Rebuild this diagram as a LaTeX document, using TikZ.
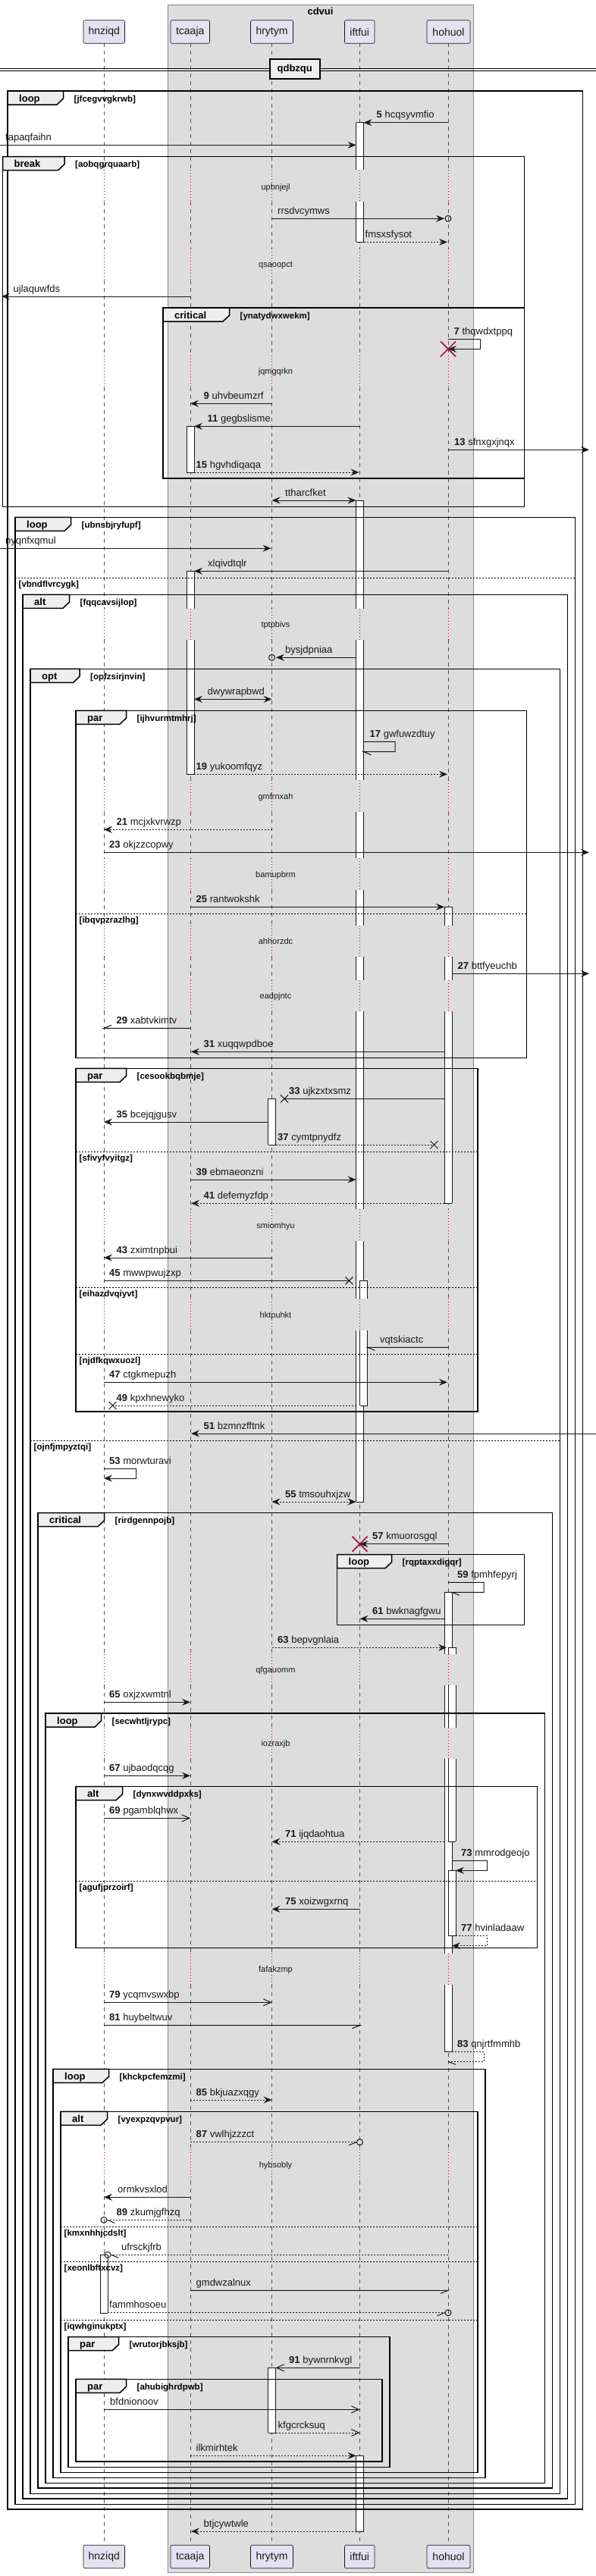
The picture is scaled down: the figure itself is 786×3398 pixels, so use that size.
\documentclass[tikz,border=0pt]{standalone}
\usepackage{fontspec}
\setmainfont{Liberation Sans}
\usetikzlibrary{arrows.meta}
\definecolor{pfill}{HTML}{E2E2F0}
\definecolor{lc}{HTML}{181818}
\definecolor{boxbg}{HTML}{DDDDDD}
\definecolor{boxbd}{HTML}{8A8A8A}
\definecolor{dred}{HTML}{A80036}
\definecolor{tabf}{HTML}{EEEEEE}
\newcommand\fs[1]{\fontsize{#1}{#1}\selectfont}
\tikzset{
 ln/.style={draw=lc, line width=1pt},
 dt/.style={dash pattern=on 2pt off 2pt},
 fa/.style={-{Stealth[length=11pt,width=9pt,inset=4pt]}},
 ba/.style={{Stealth[length=11pt,width=9pt,inset=4pt]}-{Stealth[length=11pt,width=9pt,inset=4pt]}},
 oa/.style={-{Straight Barb[length=10pt,width=9pt]}},
 lbl/.style={anchor=base west, inner sep=0pt, font=\fs{13}, text=lc},
 part/.style={draw=lc, fill=pfill, line width=0.6pt, rounded corners=2pt, font=\fs{14}, text=lc, inner sep=0pt, minimum height=30.5pt},
 life/.style={draw=lc!75, line width=0.6pt, dash pattern=on 5pt off 5pt},
 dly/.style={draw=dred, line width=0.8pt, dash pattern=on 1pt off 3pt},
 frm/.style={draw=black, line width=1.5pt},
 tabs/.style={draw=black, fill=tabf, line width=1.5pt},
 actl/.style={draw=lc, line width=1pt},
 glab/.style={anchor=base west, inner sep=0pt, font=\bfseries\fs{13}},
 gcond/.style={anchor=base west, inner sep=0pt, font=\bfseries\fs{11.5}},
 dtext/.style={anchor=base, inner sep=0pt, font=\fs{11}, text=lc},
 elsl/.style={draw=black, line width=1pt, dash pattern=on 2pt off 2pt},
 dx/.style={draw=dred, line width=1.5pt},
}
\newcommand\mlb[4]{\node[lbl] at (#1,#2-6) {\textbf{#3} #4};}
\newcommand\nlb[3]{\node[lbl] at (#1,#2-6) {#3};}
\newcommand\xmk[2]{\draw[ln] (#1-5,#2-5) -- (#1+5,#2+5) (#1-5,#2+5) -- (#1+5,#2-5);}
\newcommand\dlyt[2]{\node[dtext] at (363.5,#1+3.5) {#2};}
\newcommand\actb[5]{\fill[white] (#1,#2) rectangle (#1+10,#3);
 \draw[actl] (#1,#2) -- (#1,#3) (#1+10,#2) -- (#1+10,#3);
 \ifnum#4=1 \draw[actl] (#1,#2) -- (#1+10,#2);\fi
 \ifnum#5=1 \draw[actl] (#1,#3) -- (#1+10,#3);\fi}
\newcommand\grpb[7]{\draw[frm] (#1,#2) rectangle (#3,#4);
 \filldraw[tabs] (#1,#2) -- (#1+#6,#2) -- (#1+#6,#2+10) -- (#1+#6-8.5,#2+18) -- (#1,#2+18) -- cycle;
 \node[glab] at (#1+15,#2+14) {#5};
 \node[gcond] at (#1+#6+14,#2+14) {[#7]};}
\newcommand\elsb[4]{\draw[elsl] (#1,#3) -- (#2,#3); \node[gcond] at (#1+4.5,#3+12.5) {[#4]};}
\begin{document}
\begin{tikzpicture}[x=1pt,y=-1pt]
\useasboundingbox (0,0) rectangle (786,3398);
% box
\filldraw[fill=boxbg, draw=boxbd, line width=0.8pt] (221,6) rectangle (624,3393);
\node[font=\bfseries\fs{13}, anchor=base, inner sep=0pt] (boxtitle) at (422.5,19) {cdvui};
% lifelines
\foreach \x in {137,251,358.5,474.5,591}{
 \foreach \a/\b in {57.3/224.3,266/328,370/469,511/802.7,844/1029.3,1071/1132.3,1174.3/1220.7,1262.3/1292.7,1334.3/1595.3,1637.3/1713.3,1755/2181.7,2223.3/2279,2320.3/2576.7,2618.3/2835,2877/3357}
  {\draw[life] (\x,\a) -- (\x,\b);}
 \foreach \a/\b in {224.3/266,328/370,469/511,802.7/844,1029.3/1071,1132.3/1174.3,1220.7/1262.3,1292.7/1334.3,1595.3/1637.3,1713.3/1755,2181.7/2223.3,2279/2320.3,2576.7/2618.3,2835/2877}
  {\draw[dly] (\x,\a) -- (\x,\b);}
}
% participants
\node[part, minimum width=54.5pt] (hnziqd) at (137.25,42) {hnziqd};
\node[part, minimum width=51.5pt] (tcaaja) at (250.75,42) {tcaaja};
\node[part, minimum width=56pt] (hrytym) at (358.5,42) {hrytym};
\node[part, minimum width=39.5pt] (iftfui) at (474.25,42) {iftfui};
\node[part, minimum width=57pt] (hohuol) at (591.5,42) {hohuol};
\node[part, minimum width=54.5pt] (hnziqdB) at (137.25,3372.5) {hnziqd};
\node[part, minimum width=51.5pt] (tcaajaB) at (250.75,3372.5) {tcaaja};
\node[part, minimum width=56pt] (hrytymB) at (358.5,3372.5) {hrytym};
\node[part, minimum width=39.5pt] (iftfuiB) at (474.25,3372.5) {iftfui};
\node[part, minimum width=57pt] (hohuolB) at (591.5,3372.5) {hohuol};
% divider
\draw[draw=black, line width=1pt] (0,90) -- (786,90) (0,93) -- (786,93);
\node[draw=black, fill=tabf, line width=2pt, minimum width=65.5pt, minimum height=26pt, inner sep=0pt, font=\bfseries\fs{13}] (div) at (388.75,91) {qdbzqu};
% activations
\actb{469.5}{161.7}{224.3}{1}{0}
\actb{469.5}{266}{319.3}{0}{1}
\actb{246}{562.3}{623}{1}{1}
\actb{469.5}{660}{802.7}{1}{0}
\actb{469.5}{844}{1029.3}{0}{0}
\actb{469.5}{1071}{1132.3}{0}{0}
\actb{469.5}{1174.3}{1220.7}{0}{0}
\actb{469.5}{1262.3}{1292.7}{0}{0}
\actb{469.5}{1334.3}{1595.3}{0}{0}
\actb{469.5}{1637.3}{1713.3}{0}{0}
\actb{469.5}{1755}{1981}{0}{1}
\actb{246}{753.3}{802.7}{1}{0}
\actb{246}{844}{1021.3}{0}{1}
\actb{586}{1196.3}{1220.7}{1}{0}
\actb{586}{1262.3}{1292.7}{0}{0}
\actb{586}{1334.3}{1587.3}{0}{1}
\actb{353.5}{1449.3}{1510}{1}{1}
\actb{474.5}{1689.3}{1713.3}{1}{0}
\actb{474.5}{1755}{1854}{0}{1}
\actb{586}{2100.3}{2181.7}{1}{0}
\actb{586}{2223.3}{2279}{0}{0}
\actb{586}{2320.3}{2576.7}{0}{0}
\actb{586}{2618.3}{2706.7}{0}{1}
\actb{591}{2173.3}{2181.7}{1}{0}
\actb{591}{2223.3}{2279}{0}{0}
\actb{591}{2320.3}{2429.3}{0}{1}
\actb{591}{2467.3}{2553.3}{1}{1}
\actb{132}{2974.3}{3051}{1}{1}
\actb{353.5}{3123.3}{3209}{1}{1}
\actb{469.5}{3239.3}{3339}{1}{1}
% groups
\grpb{10}{120}{768.5}{3310}{loop}{73.5}{jfcegvvgkrwb}
\grpb{3.5}{206.7}{691.5}{668.3}{break}{81.5}{aobqgrquaarb}
\grpb{215}{406}{691.5}{631}{critical}{87.5}{ynatydwxwekm}
\grpb{20}{682.3}{758.5}{3303.3}{loop}{73.5}{ubnsbjryfupf}
\elsb{20}{758.5}{762.3}{vbndflvrcygk}
\grpb{30}{784.3}{748.5}{3296}{alt}{61.5}{fqqcavsijlop}
\grpb{40}{882.3}{738.5}{3289.3}{opt}{65}{opfzsirjnvin}
\elsb{40}{738.5}{1900}{ojnfjmpyztqi}
\grpb{100}{937.3}{694.5}{1395.3}{par}{66.5}{ijhvurmtmhrj}
\elsb{100}{694.5}{1205.3}{ibqvpzrazlhg}
\grpb{100}{1409.3}{630}{1862}{par}{66.5}{cesookbqbmje}
\elsb{100}{630}{1519}{sfivyfvyitgz}
\elsb{100}{630}{1698.3}{eihazdvqiyvt}
\elsb{100}{630}{1786.3}{njdfkqwxuozl}
\grpb{50}{1995.7}{728.5}{3282}{critical}{87.5}{rirdgennpojb}
\grpb{444.5}{2050.7}{691.5}{2143.3}{loop}{72}{rqptaxxdigqr}
\grpb{60}{2260}{718.5}{3275.3}{loop}{73.5}{secwhtljrypc}
\grpb{100}{2356.7}{708.5}{2569.3}{alt}{61.5}{dynxwvddpxks}
\elsb{100}{708.5}{2481}{agufjprzoirf}
\grpb{70}{2729.3}{640}{3268.3}{loop}{73.5}{khckpcfemzmi}
\grpb{80}{2785.3}{630}{3261.3}{alt}{61.5}{vyexpzqvpvur}
\elsb{80}{630}{2937}{kmxnhhjcdslt}
\elsb{80}{630}{2983}{xeonlbftxcvz}
\elsb{80}{630}{3060.3}{iqwhginukptx}
\grpb{90}{3082.7}{514}{3254.3}{par}{66.5}{wrutorjbksjb}
\grpb{100}{3138.3}{504}{3247}{par}{66.5}{ahubighrdpwb}
% delays
\dlyt{246.7}{upbnjejl}
\dlyt{349.3}{qsaoopct}
\dlyt{490}{jqmgqrkn}
\dlyt{824.3}{tptpbivs}
\dlyt{1051}{gmfrnxah}
\dlyt{1154.3}{bamupbrm}
\dlyt{1242.3}{ahhorzdc}
\dlyt{1314.3}{eadpjntc}
\dlyt{1617.3}{smiomhyu}
\dlyt{1735}{hktpuhkt}
\dlyt{2203.3}{qfgauomm}
\dlyt{2300.3}{iozraxjb}
\dlyt{2598.3}{fafakzmp}
\dlyt{2856}{hybsobly}
% messages
\draw[ln,fa] (591,161.7) -- (479.5,161.7); \mlb{496.5}{161.7}{5}{hcqsyvmfio}
\draw[ln,fa] (0,191.3) -- (469.5,191.3); \nlb{7}{191.3}{fapaqfaihn}
\draw[ln,fa] (358.5,288.3) -- (586,288.3); \draw[ln] (591,288.3) circle[radius=4pt]; \nlb{366}{288.3}{rrsdvcymws}
\draw[ln,dt,fa] (479.5,319.3) -- (590,319.3); \nlb{481.5}{319.3}{fmsxsfysot}
\draw[ln,fa] (251,391) -- (2,391); \nlb{17.5}{391}{ujlaquwfds}
\draw[ln,fa] (591,447.3) -- (633,447.3) -- (633,460.3) -- (591,460.3); \mlb{598.5}{447.3}{7}{thqwdxtppq}
\draw[dx] (581,450.3) -- (601,470.3) (581,470.3) -- (601,450.3);
\draw[ln,fa] (358.5,532.3) -- (251,532.3); \mlb{268.5}{532.3}{9}{uhvbeumzrf}
\draw[ln,fa] (474.5,562.3) -- (256,562.3); \mlb{273.5}{562.3}{11}{gegbslisme}
\draw[ln,fa] (591,593.3) -- (777,593.3); \mlb{599}{593.3}{13}{sfnxgxjnqx}
\draw[ln,dt,fa] (256,623) -- (473.5,623); \mlb{258.5}{623}{15}{hgvhdiqaqa}
\draw[ln,ba] (358.5,660) -- (469.5,660); \nlb{376}{660}{ttharcfket}
\draw[ln,fa] (0,723.3) -- (357.5,723.3); \nlb{7}{723.3}{nyqnfxqmul}
\draw[ln,fa] (591,753.3) -- (256,753.3); \nlb{274}{753.3}{xlqivdtqlr}
\draw[ln,fa] (469.5,867.3) -- (364,867.3); \draw[ln] (358.5,867.3) circle[radius=4pt]; \nlb{376}{867.3}{bysjdpniaa}
\draw[ln,ba] (256,922.3) -- (358.5,922.3); \nlb{273.5}{922.3}{dwywrapbwd}
\draw[ln] (479.5,978.3) -- (521,978.3) -- (521,991.7) -- (479.5,991.7) -- ++(10,4); \mlb{487.5}{978.3}{17}{gwfuwzdtuy}
\draw[ln,dt,fa] (256,1021.3) -- (590,1021.3); \mlb{258.5}{1021.3}{19}{yukoomfqyz}
\draw[ln,dt,fa] (358.5,1094.3) -- (137,1094.3); \mlb{153.5}{1094.3}{21}{mcjxkvrwzp}
\draw[ln,fa] (137,1124.3) -- (777,1124.3); \mlb{144}{1124.3}{23}{okjzzcopwy}
\draw[ln,fa] (251,1196.3) -- (586,1196.3); \mlb{258.5}{1196.3}{25}{rantwokshk}
\draw[ln,fa] (596,1284.3) -- (777,1284.3); \mlb{603.5}{1284.3}{27}{bttfyeuchb}
\draw[ln] (251,1356.3) -- (137,1356.3) -- ++(10,-4); \mlb{153.5}{1356.3}{29}{xabtvkimtv}
\draw[ln,fa] (586,1387.3) -- (252,1387.3); \mlb{268.5}{1387.3}{31}{xuqqwpdboe}
\draw[ln] (586,1449.3) -- (375,1449.3); \xmk{375}{1449.3} \mlb{381}{1449.3}{33}{ujkzxtxsmz}
\draw[ln,fa] (353.5,1480) -- (137,1480); \mlb{153.5}{1480}{35}{bcejqjgusv}
\draw[ln,dt] (363.5,1510) -- (572.5,1510); \xmk{572.5}{1510} \mlb{366}{1510}{37}{cymtpnydfz}
\draw[ln,fa] (251,1556) -- (469.5,1556); \mlb{258.5}{1556}{39}{ebmaeonzni}
\draw[ln,dt,fa] (586,1587.3) -- (252,1587.3); \mlb{268.5}{1587.3}{41}{defemyzfdp}
\draw[ln,fa] (358.5,1659) -- (137,1659); \mlb{153.5}{1659}{43}{zximtnpbui}
\draw[ln] (137,1689.3) -- (460.5,1689.3); \xmk{460.5}{1689.3} \mlb{144}{1689.3}{45}{mwwpwujzxp}
\draw[ln] (591,1777.3) -- (484.5,1777.3) -- ++(10,4); \nlb{501}{1777.3}{vqtskiactc}
\draw[ln,fa] (137,1823.3) -- (590,1823.3); \mlb{144}{1823.3}{47}{ctgkmepuzh}
\draw[ln,dt] (469.5,1854) -- (148.5,1854); \xmk{148.5}{1854} \mlb{153.5}{1854}{49}{kpxhnewyko}
\draw[ln,fa] (786,1891) -- (252,1891); \mlb{268.5}{1891}{51}{bzmnzfftnk}
\draw[ln,fa] (137,1937.7) -- (179,1937.7) -- (179,1950) -- (137,1950); \mlb{144}{1937.7}{53}{morwturavi}
\draw[ln,dt,ba] (358.5,1981) -- (469.5,1981); \mlb{376}{1981}{55}{tmsouhxjzw}
\draw[ln,fa] (591,2036.7) -- (474.5,2036.7); \mlb{491}{2036.7}{57}{kmuorosgql}
\draw[dx] (464.5,2026.7) -- (484.5,2046.7) (464.5,2046.7) -- (484.5,2026.7);
\draw[ln] (591,2087.3) -- (638,2087.3) -- (638,2100.3) -- (596,2100.3) -- ++(10,4); \mlb{603}{2087.3}{59}{fpmhfepyrj}
\draw[ln,fa] (586,2135.3) -- (474.5,2135.3); \mlb{491}{2135.3}{61}{bwknagfgwu}
\draw[ln,dt,fa] (358.5,2173.3) -- (589,2173.3); \mlb{366}{2173.3}{63}{bepvgnlaia}
\draw[ln,fa] (137,2245.3) -- (251,2245.3); \mlb{144}{2245.3}{65}{oxjzxwmtnl}
\draw[ln,fa] (137,2342.3) -- (251,2342.3); \mlb{144}{2342.3}{67}{ujbaodqcqg}
\draw[ln,oa] (137,2398.3) -- (251,2398.3); \mlb{144}{2398.3}{69}{pgamblqhwx}
\draw[ln,dt,fa] (586,2429.3) -- (358.5,2429.3); \mlb{376}{2429.3}{71}{ijqdaohtua}
\draw[ln,fa] (596,2454.7) -- (642.5,2454.7) -- (642.5,2467.3) -- (601,2467.3); \mlb{608}{2454.7}{73}{mmrodgeojo}
\draw[ln,fa] (474.5,2518.3) -- (358.5,2518.3); \mlb{376}{2518.3}{75}{xoizwgxrnq}
\draw[ln,dt,fa] (601,2553.3) -- (642.5,2553.3) -- (642.5,2566.7) -- (596,2566.7); \mlb{608}{2553.3}{77}{hvinladaaw}
\draw[ln,oa] (137,2641.3) -- (358.5,2641.3); \mlb{144}{2641.3}{79}{ycqmvswxbp}
\draw[ln] (137,2671.7) -- (474.5,2671.7) -- ++(-10,4); \mlb{144}{2671.7}{81}{huybeltwuv}
\draw[ln,dt] (596,2706.7) -- (638,2706.7) -- (638,2719.3) -- (591,2719.3); \draw[ln] (591,2719.3) -- ++(10,4); \mlb{603}{2706.7}{83}{qnjrtfmmhb}
\draw[ln,dt,fa] (251,2770) -- (358.5,2770); \mlb{258.5}{2770}{85}{bkjuazxqgy}
\draw[ln,dt] (251,2825.7) -- (470,2825.7); \draw[ln] (470,2825.7) -- ++(-10,4); \draw[ln] (474.5,2825.7) circle[radius=4pt]; \mlb{258.5}{2825.7}{87}{vwlhjzzzct}
\draw[ln,fa] (251,2898.3) -- (137,2898.3); \nlb{155}{2898.3}{ormkvsxlod}
\draw[ln,dt] (251,2928.3) -- (141.5,2928.3); \draw[ln] (141.5,2928.3) -- ++(10,4); \draw[ln] (137,2928.3) circle[radius=4pt]; \mlb{153.5}{2928.3}{89}{zkumjgfhzq}
\draw[ln,dt] (591,2974.3) -- (146.5,2974.3); \draw[ln] (146.5,2974.3) -- ++(10,4); \draw[ln] (142,2974.3) circle[radius=4pt]; \nlb{160}{2974.3}{ufrsckjfrb}
\draw[ln] (251,3021.3) -- (591,3021.3) -- ++(-10,4); \nlb{258.5}{3021.3}{gmdwzalnux}
\draw[ln,dt] (142,3050.7) -- (586.5,3050.7); \draw[ln] (586.5,3050.7) -- ++(-10,4); \draw[ln] (591,3050.7) circle[radius=4pt]; \nlb{144}{3050.7}{fammhosoeu}
\draw[ln,oa] (474.5,3123.3) -- (363.5,3123.3); \mlb{381}{3123.3}{91}{bywnrnkvgl}
\draw[ln,oa] (137,3178.3) -- (474.5,3178.3); \nlb{145}{3178.3}{bfdnionoov}
\draw[ln,dt,oa] (363.5,3209) -- (474.5,3209); \nlb{366.5}{3209}{kfgcrcksuq}
\draw[ln,dt,fa] (251,3239.3) -- (469.5,3239.3); \nlb{258.5}{3239.3}{ilkmirhtek}
\draw[ln,dt,fa] (469.5,3339) -- (252,3339); \nlb{268.5}{3339}{btjcywtwle}
\end{tikzpicture}
\end{document}
